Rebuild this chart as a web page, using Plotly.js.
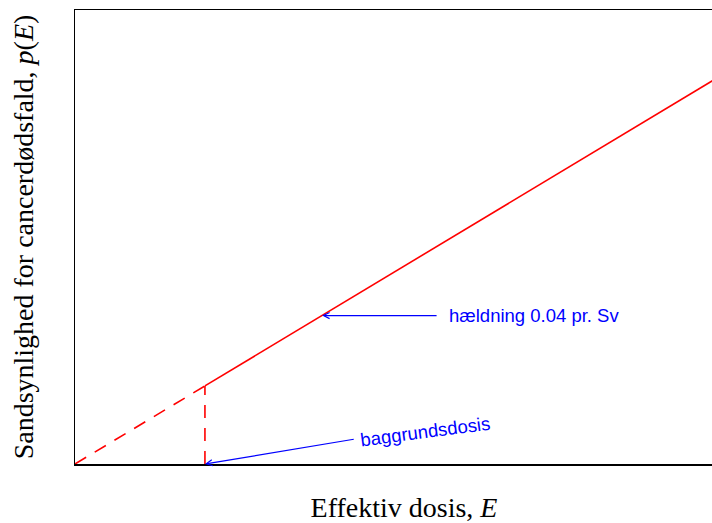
<!DOCTYPE html>
<html>
<head>
<meta charset="utf-8">
<script src="https://cdn.plot.ly/plotly-3.0.1.min.js"></script>
<style>html,body{margin:0;padding:0;background:#fff;overflow:hidden;}#chart{width:733px;height:523px;}</style>
</head>
<body>
<div id="chart"></div>
<script>
// Effective dose (arbitrary units) and probability of cancer death (arbitrary units)
const doseBelow = [0, 2.04];          // extrapolated (dashed) part
const probBelow = [0, 0.172];
const doseAbove = [2.04, 10.33];      // observed linear part
const probAbove = [0.172, 0.8715];
const bgDoseX = [2.04, 2.04];         // background dose marker
const bgDoseY = [0, 0.172];
const slopeLabel = "hældning 0.04 pr. Sv";
const bgLabel = "baggrundsdosis";
const slopeArrowHead = [3.88, 0.327];
const slopeArrowTail = [5.70, 0.327];
const slopeTextPos = [5.84, 0.327];
const bgArrowHead = [2.04, 0.0];
const bgArrowTail = [4.40, 0.055];
const bgTextPos = [5.50, 0.0705];

const red = '#ff0000';
const blue = '#0000ff';

const traces = [
  {x: doseBelow, y: probBelow, mode: 'lines', line: {color: red, width: 1.6, dash: '13px,10px'}, hoverinfo: 'skip', showlegend: false},
  {x: bgDoseX, y: bgDoseY, mode: 'lines', line: {color: red, width: 1.6, dash: '13px,10px'}, hoverinfo: 'skip', showlegend: false},
  {x: doseAbove, y: probAbove, mode: 'lines', line: {color: red, width: 1.6}, hoverinfo: 'skip', showlegend: false}
];

const titleFont = {family: 'Liberation Serif, Times New Roman, serif', size: 28, color: '#000'};

const layout = {
  width: 733, height: 523,
  margin: {l: 75, r: 0, t: 10, b: 59},
  paper_bgcolor: '#fff', plot_bgcolor: '#fff',
  showlegend: false,
  xaxis: {
    range: [0, 10.33], showgrid: false, zeroline: false, showticklabels: false, ticks: '',
    showline: true, mirror: true, linecolor: '#000', linewidth: 1.5,
    title: {text: 'Effektiv dosis, <i>E</i>', font: titleFont, standoff: 33}
  },
  yaxis: {
    range: [0, 1], showgrid: false, zeroline: false, showticklabels: false, ticks: '',
    showline: true, mirror: false, linecolor: '#000', linewidth: 1.5,
    title: {text: 'Sandsynlighed for cancerdødsfald, <i>p</i>(<i>E</i>)', font: titleFont, standoff: 31}
  },
  annotations: [
    {x: slopeArrowHead[0], y: slopeArrowHead[1], ax: slopeArrowTail[0], ay: slopeArrowTail[1], axref: 'x', ayref: 'y', xref: 'x', yref: 'y',
     text: '', showarrow: true, arrowhead: 5, arrowsize: 1, arrowwidth: 1.2, arrowcolor: blue},
    {x: bgArrowHead[0], y: bgArrowHead[1], ax: bgArrowTail[0], ay: bgArrowTail[1], axref: 'x', ayref: 'y', xref: 'x', yref: 'y',
     text: '', showarrow: true, arrowhead: 5, arrowsize: 1, arrowwidth: 1.2, arrowcolor: blue},
    {x: slopeTextPos[0], y: slopeTextPos[1], xref: 'x', yref: 'y', text: slopeLabel, showarrow: false, xanchor: 'left', yanchor: 'middle',
     font: {family: 'Liberation Sans, Arial, sans-serif', size: 18.5, color: blue}},
    {x: bgTextPos[0], y: bgTextPos[1], xref: 'x', yref: 'y', text: bgLabel, showarrow: false, xanchor: 'center', yanchor: 'middle', textangle: -7.5,
     font: {family: 'Liberation Sans, Arial, sans-serif', size: 18.5, color: blue}}
  ]
};

Plotly.newPlot('chart', traces, layout, {displayModeBar: false, staticPlot: true});
</script>
</body>
</html>
